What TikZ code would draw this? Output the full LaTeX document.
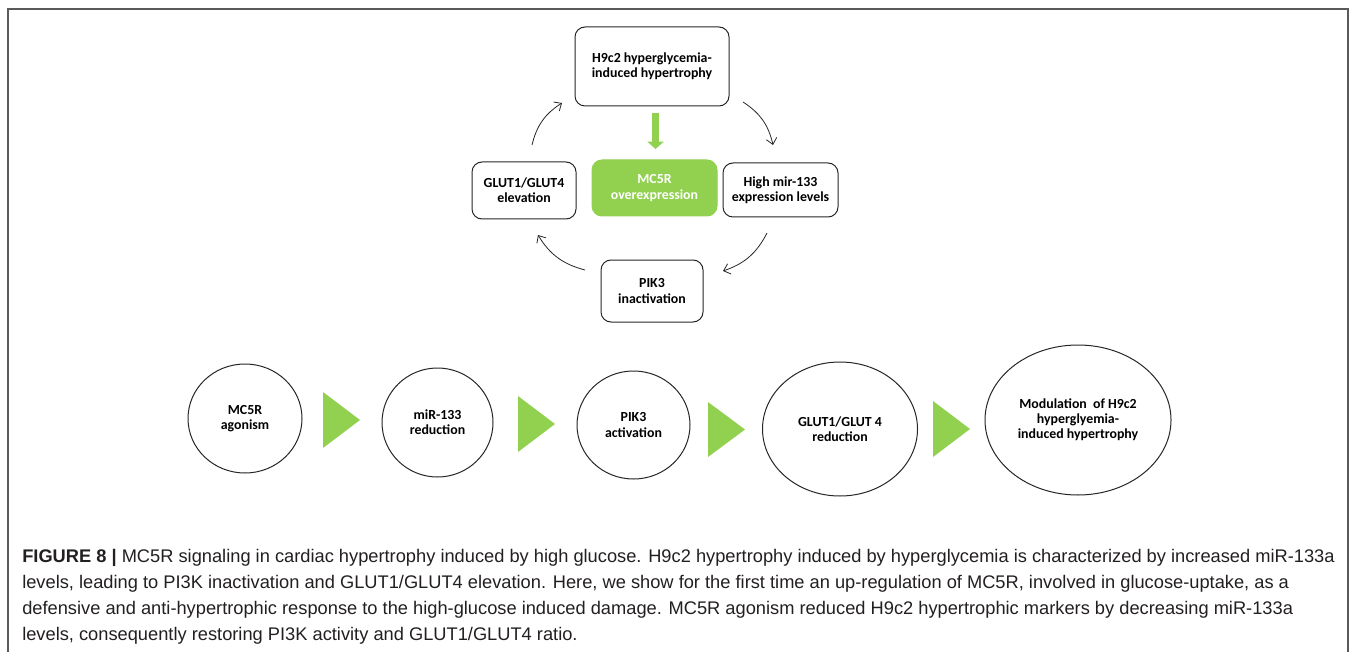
\documentclass[tikz,border=0pt]{standalone}
\usepackage{fontspec}
\setmainfont{Liberation Sans}
\newfontfamily\boxfont{Carlito}
\usetikzlibrary{arrows.meta,shapes.geometric}
\definecolor{lgreen}{HTML}{92D050}
\definecolor{capcol}{HTML}{231F20}
\definecolor{framecol}{HTML}{5A5A5A}
\definecolor{linecol}{HTML}{262626}
\begin{document}
\begin{tikzpicture}[x=0.75pt,y=-0.75pt,
  boxtext/.style={align=center, font=\boxfont\bfseries\fontsize{10.4}{11.4}\selectfont},
  box/.style={boxtext, draw=linecol, line width=0.75pt, rounded corners=7.5pt, inner sep=0pt},
  gbox/.style={box, fill=lgreen, draw=lgreen, text=white},
  circ/.style={boxtext, ellipse, draw=linecol, line width=0.75pt, inner sep=0pt},
  cyc/.style={-{Straight Barb[length=4.5pt,width=8pt]}, line width=0.6pt, draw=linecol},
  tri/.style={fill=lgreen},
  captext/.style={anchor=base west, inner sep=0pt, text=capcol, font=\fontsize{13.7}{15}\selectfont}
]
\useasboundingbox (0,0) rectangle (1358,652);
% outer frame (open at the bottom)
\draw[framecol, line width=1.1pt] (8,652) -- (8,9) -- (1348,9) -- (1348,652);

% cycle boxes
\node[box, minimum width=115.5pt, minimum height=59.25pt] (h9) at (652,66.5) {H9c2 hyperglycemia-\\induced hypertrophy};
\node[gbox, minimum width=93.75pt, minimum height=42pt] (mc5r) at (654.5,188) {MC5R\\overexpression};
\node[box, minimum width=78pt, minimum height=42.75pt] (glut) at (524,190.5) {GLUT1/GLUT4\\elevation};
\node[box, minimum width=86.25pt, minimum height=40.5pt] (high) at (780.5,190) {High mir-133\\expression levels};
\node[box, minimum width=76.5pt, minimum height=46.5pt] (pik) at (652,291) {PIK3\\inactivation};

% green arrow
\coordinate (gs) at (655.5,113);
\coordinate (ge) at (655.5,149);
\draw[lgreen, line width=5.25pt, -{Triangle[length=5.5pt,width=12pt]}] (gs) -- (ge);

% cycle arrows
\coordinate (a1s) at (532,145); \coordinate (a1e) at (562,103);
\coordinate (a2s) at (743,102); \coordinate (a2e) at (773,145);
\coordinate (a3s) at (767,233); \coordinate (a3e) at (723,271);
\coordinate (a4s) at (585,270); \coordinate (a4e) at (538,235);
\draw[cyc] (a1s) to[bend left=22] (a1e);
\draw[cyc] (a2s) to[bend left=22] (a2e);
\draw[cyc] (a3s) to[bend left=22] (a3e);
\draw[cyc] (a4s) to[bend left=22] (a4e);

% bottom chain
\node[circ, minimum width=85.5pt, minimum height=81.75pt] (c1) at (245,418.5) {MC5R\\agonism};
\node[circ, minimum width=83.25pt, minimum height=81.75pt] (c2) at (437.5,422.5) {miR-133\\reduction};
\node[circ, minimum width=84.75pt, minimum height=81pt] (c3) at (633.5,425) {PIK3\\activation};
\node[circ, minimum width=116.25pt, minimum height=100.5pt] (c4) at (840,429) {GLUT1/GLUT 4\\reduction};
\node[circ, minimum width=139.5pt, minimum height=112.5pt] (c5) at (1078,420) {Modulation \ of H9c2\\hyperglyemia-\\induced hypertrophy};

\fill[tri] (323,392) -- (360,420) -- (323,448) -- cycle;
\fill[tri] (518,396) -- (555,424) -- (518,452) -- cycle;
\fill[tri] (708,402) -- (745,429.5) -- (708,457) -- cycle;
\fill[tri] (933,401) -- (970,429) -- (933,457) -- cycle;

% caption
\node[captext] (l1) at (22,562) {\textbf{FIGURE 8 |} MC5R signaling in cardiac hypertrophy induced by high glucose. H9c2 hypertrophy induced by hyperglycemia is characterized by increased miR-133a};
\node[captext] (l2) at (22,588) {levels, leading to PI3K inactivation and GLUT1/GLUT4 elevation. Here, we show for the first time an up-regulation of MC5R, involved in glucose-uptake, as a};
\node[captext] (l3) at (22,614) {defensive and anti-hypertrophic response to the high-glucose induced damage. MC5R agonism reduced H9c2 hypertrophic markers by decreasing miR-133a};
\node[captext] (l4) at (22,640) {levels, consequently restoring PI3K activity and GLUT1/GLUT4 ratio.};
\end{tikzpicture}
\end{document}
